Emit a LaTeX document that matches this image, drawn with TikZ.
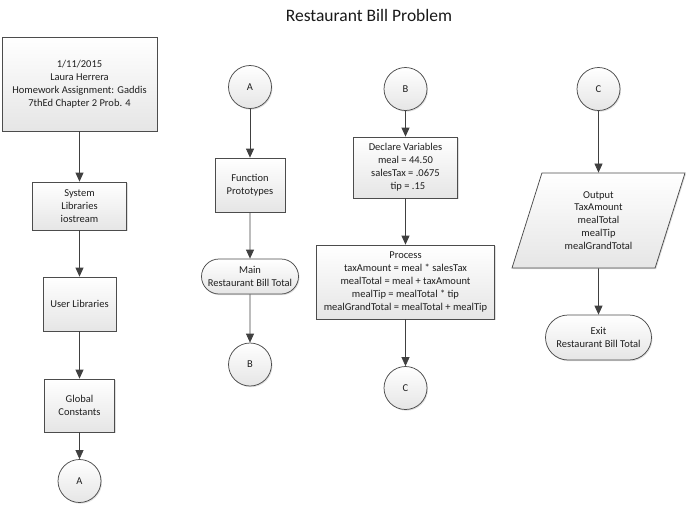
\documentclass[tikz,border=0pt]{standalone}
\usepackage{fontspec}
\setmainfont{Carlito}
\usetikzlibrary{arrows.meta,shapes.geometric,shapes.misc,shadows}
\begin{document}
\begin{tikzpicture}[x=1pt,y=-1pt,
  every node/.style={font=\fontsize{10.5}{12.9}\selectfont, text=black!88, align=center},
  blk/.style={draw=black!70, line width=0.75pt, top color=white, bottom color=black!10,
    drop shadow={shadow xshift=1pt,shadow yshift=-1.2pt,opacity=0.25}, inner sep=1pt},
  box/.style={blk, rectangle},
  conn/.style={blk, circle, minimum size=43pt},
  term/.style={blk, rounded rectangle},
  arr/.style={draw=black!75, line width=0.75pt, -{Triangle[width=8pt,length=9pt]}}]
\useasboundingbox (0,0) rectangle (687,504);
\node[font=\fontsize{17.5}{20}\selectfont, text=black!90] (title) at (369,15) {Restaurant Bill Problem};
% column 1
\node[box, minimum width=155pt, minimum height=94pt] (n1) at (79.5,84) {1/11/2015\\Laura Herrera\\Homework Assignment: Gaddis\\7thEd Chapter 2 Prob. 4};
\node[box, minimum width=94pt, minimum height=48pt] (sys) at (79.5,206) {System\\Libraries\\iostream};
\node[box, minimum width=73pt, minimum height=54pt] (user) at (79.5,304) {User Libraries};
\node[box, minimum width=70pt, minimum height=53pt] (glob) at (79.5,405.5) {Global\\Constants};
\node[conn] (a1) at (79.5,481) {A};
% column 2
\node[conn] (a2) at (250,87) {A};
\node[box, minimum width=70pt, minimum height=54pt] (func) at (250,185) {Function\\Prototypes};
\node[term, minimum width=99pt, minimum height=35pt] (main) at (250,276.5) {Main\\Restaurant Bill Total};
\node[conn] (b2) at (250,364.5) {B};
% column 3
\node[conn] (b3) at (405.5,89) {B};
\node[box, minimum width=104pt, minimum height=61pt] (decl) at (405.5,167.5) {Declare Variables\\meal = 44.50\\salesTax = .0675\\\ \ tip = .15};
\node[box, minimum width=178pt, minimum height=74pt] (proc) at (405.5,282) {Process\\taxAmount = meal * salesTax\\mealTotal = meal + taxAmount\\mealTip = mealTotal * tip\\mealGrandTotal = mealTotal + mealTip};
\node[conn] (c3) at (405.5,388) {C};
% column 4
\node[conn] (c4) at (598.5,89) {C};
\node[blk, trapezium, trapezium left angle=63.7, trapezium right angle=116.3, trapezium stretches body,
  minimum width=173pt, minimum height=95pt] (out) at (598.5,220.5) {Output\\TaxAmount\\mealTotal\\mealTip\\mealGrandTotal};
\node[term, minimum width=108pt, minimum height=45pt] (exit) at (598.5,337.5) {Exit\\Restaurant Bill Total};
% connectors
\draw[arr] (n1) -- (sys);
\draw[arr] (sys) -- (user);
\draw[arr] (user) -- (glob);
\draw[arr] (glob) -- (a1);
\draw[arr] (a2) -- (func);
\draw[arr] (func) -- (main);
\draw[arr] (main) -- (b2);
\draw[arr] (b3) -- (decl);
\draw[arr] (decl) -- (proc);
\draw[arr] (proc) -- (c3);
\draw[arr] (c4) -- (out);
\draw[arr] (out) -- (exit);
\end{tikzpicture}
\end{document}
